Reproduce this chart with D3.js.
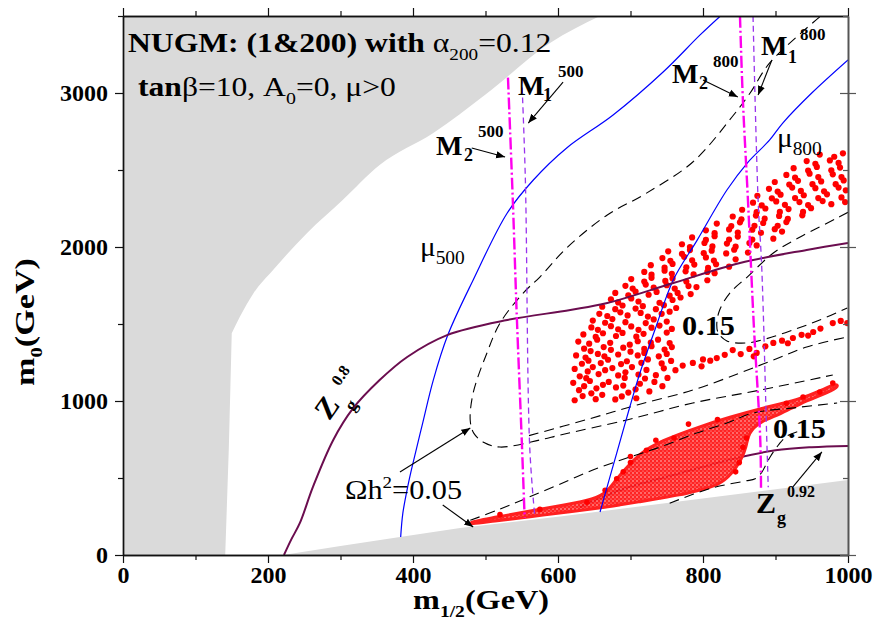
<!DOCTYPE html>
<html><head><meta charset="utf-8">
<script src="https://cdn.jsdelivr.net/npm/d3@7"></script>
<style>body{margin:0;background:#fff}</style>
</head><body>
<svg id="c" width="877" height="621"></svg>
<script>
// ---------- data (m1/2, m0) in GeV ----------
const xTicks = [0, 200, 400, 600, 800, 1000];
const xMinor = [100, 300, 500, 700, 900];
const yTicks = [0, 1000, 2000, 3000];
const yMinor = [500, 1500, 2500, 3500];

const grayLeftEdge = [[141,0],[146,700],[150,1440]];
const grayLeftCurve = [[150,1440],[161,1545],[180,1700],[207,1851],[254,2091],[303,2305],[354,2532],[428,2740],[500,2990],[589,3325],[658,3500]];
const grayBottom = [[221,0],[300,58],[382,117],[465,175],[603,250],[1000,487],[1000,0]];

const mu500 = [[383,117],[386,272],[393,450],[400,597],[413,850],[428,1136],[448,1428],[483,1786],[530,2221],[566,2435],[612,2643],[676,2857],[745,3136],[796,3377],[824,3500]];
const mu800 = [[658,279],[670,480],[681,662],[699,961],[713,1182],[735,1480],[759,1786],[792,2045],[833,2370],[861,2545],[892,2695],[910,2805],[950,3000],[1000,3215]];

const zg08 = [[222,0],[232,100],[244,208],[262,442],[290,747],[317,950],[354,1136],[392,1286],[447,1428],[530,1526],[617,1591],[668,1636],[759,1766],[851,1896],[943,1981],[1000,2026]];
const zg092 = [[630,310],[686,422],[760,520],[847,630],[900,680],[950,700],[1000,708]];

const m2_500 = [[531,3100],[538,2260],[543,1571],[550,747],[554,240]];
const m1_500 = [[550,3100],[555,2435],[561,700],[568,250]];
const m2_800 = [[851,3500],[855,2955],[862,2305],[870,1500],[879,747],[880,420]];
const m1_800 = [[869,3500],[876,2305],[881,1870],[888,747],[890,440]];

// relic density contours (Omega h^2)
const omegaA = [[961,3494],[892,3195],[865,3000],[840,2844],[786,2552],[720,2344],[668,2208],[612,1994],[575,1805],[552,1701],[520,1506],[502,1312],[483,1052],[479,870],[484,790],[498,730],[520,701],[575,747],[603,779],[695,877],[786,987],[879,1071],[979,1169]];
const omegaB = [[1000,2225],[985,2188],[934,2065],[897,1961],[861,1805],[837,1701],[823,1591],[819,1500],[821,1442],[833,1390],[861,1377],[888,1405],[924,1461],[961,1526],[999,1604]];
const omegaC = [[560,775],[640,880],[709,974],[786,1071],[851,1182],[897,1266],[943,1351],[999,1416]];
const omegaE = [[479,225],[520,298],[557,370],[600,455],[648,552],[695,630],[741,701],[790,790],[833,857],[869,922],[930,958],[985,987]];
const omegaF = [[754,336],[812,435],[858,480],[872,495],[880,530],[893,640],[905,720],[915,770],[930,800]];

// dense scatter band (outline of the nearly solid red region)
const denseBand = [[478,214],[520,250],[560,284],[610,326],[650,362],[668,410],[680,490],[695,570],[713,660],[741,740],[796,835],[837,895],[879,950],[934,1012],[962,1065],[984,1118],
 [988,1090],[965,1040],[934,985],[906,912],[879,868],[862,790],[860,700],[852,610],[840,530],[823,455],[790,415],[768,390],[740,368],[713,346],[686,326],[658,305],[620,282],[560,248],[510,220],[478,198]];
const bandDots = [[979,1117],[961,1058],[938,1026],[915,985],[690,540],[681,495],[700,600],[722,680],[760,760],[520,262],[575,296],[640,342],[855,700],[850,600],[780,850],[820,880],[665,420],[700,640],[735,745],[860,760],[845,540]];

// sparse scatter points (upper region)
const blobDots = [
[623,1005],[634,1032],[652,1012],[661,1040],[679,1010],[688,1030],[708,1018],
[629,1070],[646,1050],[653,1082],[680,1088],[697,1055],[707,1076],[726,1062],
[621,1118],[636,1096],[644,1130],[662,1105],[670,1124],[690,1100],[713,1112],[733,1124],[744,1096],
[630,1160],[639,1148],[656,1175],[683,1166],[692,1150],[711,1172],[720,1146],[735,1168],[751,1150],
[623,1208],[641,1192],[648,1220],[665,1200],[675,1214],[693,1186],[702,1220],[722,1202],[746,1212],
[633,1242],[642,1262],[659,1246],[669,1268],[687,1240],[695,1258],[715,1248],[724,1270],[743,1244],[756,1260],
[625,1296],[638,1282],[655,1306],[664,1290],[683,1302],[710,1296],[719,1312],[739,1290],[750,1306],
[636,1340],[645,1324],[663,1350],[673,1332],[690,1346],[700,1320],[719,1338],[729,1356],[747,1334],[757,1350],
[628,1386],[643,1372],[654,1398],[672,1378],[699,1366],[710,1388],[728,1380],[738,1398],[754,1376],
[635,1432],[652,1416],[662,1440],[680,1422],[689,1442],[708,1418],[718,1436],[750,1444],
[646,1478],[655,1462],[673,1486],[683,1466],[701,1484],[711,1462],[729,1476],[740,1490],[757,1468],
[648,1522],[665,1508],[675,1532],[693,1512],[721,1506],[732,1530],[750,1516],
[657,1566],[668,1552],[686,1576],[696,1556],[714,1572],[724,1548],[743,1566],[754,1580],
[661,1612],[679,1596],[689,1620],[707,1600],[717,1616],[735,1596],[746,1622],[763,1604],
[673,1660],[683,1640],[701,1666],[711,1646],[740,1638],[758,1656],[769,1672],
[679,1702],[697,1686],[707,1710],[725,1690],[736,1708],[754,1684],[765,1702],[783,1694],
[693,1748],[703,1730],[721,1756],[732,1736],[750,1752],[761,1730],[780,1746],[791,1740],
[701,1792],[719,1776],[729,1800],[748,1780],[758,1796],[777,1776],[806,1784],
[719,1838],[729,1820],[747,1846],[757,1826],[776,1842],[787,1822],[806,1838],[816,1830],
[728,1882],[747,1866],[758,1890],[777,1868],[788,1886],[807,1864],[818,1888],[836,1872],
[744,1928],[755,1910],[774,1936],[785,1914],[804,1932],[815,1912],[845,1920],
[752,1972],[771,1956],[782,1980],[801,1960],[812,1976],[832,1958],[843,1982],[862,1964],
[771,2018],[782,2000],[802,2026],[813,2004],[833,2022],[845,2002],[864,2026],[874,2010],
[785,2062],[804,2046],[816,2070],[836,2048],[848,2068],[868,2048],[897,2054],
[804,2108],[816,2090],[836,2114],[848,2094],[868,2112],[880,2092],[899,2116],[909,2100],
[819,2152],[839,2136],[851,2160],[871,2138],[883,2156],[903,2138],[915,2162],
[841,2198],[853,2180],[873,2204],[885,2184],[905,2202],[917,2182],[937,2206],
[854,2242],[874,2226],[886,2250],[906,2228],[918,2246],[938,2228],[949,2252],
[869,2288],[881,2270],[901,2296],[913,2274],[933,2292],[945,2272],[965,2298],[977,2278],[996,2292],
[875,2332],[895,2316],[907,2340],[927,2318],[939,2336],[959,2318],[971,2342],[991,2322],
[891,2378],[903,2360],[923,2386],[935,2364],[955,2382],[967,2362],[987,2386],[997,2368],
[899,2422],[919,2406],[931,2430],[951,2408],[963,2426],[983,2408],[994,2432],
[915,2468],[927,2450],[947,2476],[959,2454],[979,2472],[991,2454],
[925,2512],[945,2496],[957,2520],[977,2498],[989,2516],
[943,2558],[955,2540],[975,2562],[987,2546],
[961,2600],[981,2586],[993,2608],
[762,1200],[772,1230],[786,1247],[798,1225],[810,1262],[819,1279],[830,1300],[841,1331],[852,1305],[864,1338],[874,1312],[886,1355],[897,1377],[909,1392],[924,1409],[936,1430],[952,1448],[962,1470],[979,1506],[990,1520],[999,1506],[945,1425],[917,1375],[870,1290],[800,1270]
];

// arrows [from, to] in data units
const arrows = [
 [[607,3071],[559,2805]],
 [[481,2643],[527,2584]],
 [[800,3084],[848,2974]],
 [[895,3214],[876,2987]],
 [[382,539],[479,825]],
 [[441,325],[483,182]],
 [[924,442],[964,669]]
];

// ---------- drawing ----------
const serif = "'Liberation Serif','Times New Roman',Times,serif";
const svg = d3.select('#c');
const x = d3.scaleLinear().domain([0,1000]).range([123,848]);
const y = d3.scaleLinear().domain([0,3500]).range([555,16]);

const defs = svg.append('defs');
defs.append('clipPath').attr('id','clip').append('rect')
  .attr('x',x(0)).attr('y',y(3500)).attr('width',x(1000)-x(0)).attr('height',y(0)-y(3500));
defs.append('marker').attr('id','ah').attr('viewBox','0 0 10 10').attr('refX',10).attr('refY',5)
  .attr('markerWidth',9).attr('markerHeight',9).attr('markerUnits','userSpaceOnUse').attr('orient','auto')
  .append('path').attr('d','M0,1 L10,5 L0,9 Z').attr('fill','#000');
const pat = defs.append('pattern').attr('id','speck').attr('width',4).attr('height',4).attr('patternUnits','userSpaceOnUse');
pat.append('rect').attr('width',4).attr('height',4).attr('fill','#ff1010');
pat.append('circle').attr('cx',1).attr('cy',1).attr('r',0.75).attr('fill','#ffd0d0');
pat.append('circle').attr('cx',3).attr('cy',3).attr('r',0.5).attr('fill','#ffe0e0');

const plot = svg.append('g').attr('clip-path','url(#clip)');
const poly = d3.line().x(d=>x(d[0])).y(d=>y(d[1]));
const mono = d3.line().x(d=>x(d[0])).y(d=>y(d[1])).curve(d3.curveMonotoneX);
const smooth = d3.line().x(d=>x(d[0])).y(d=>y(d[1])).curve(d3.curveCatmullRom.alpha(0.5));
const blobby = d3.line().x(d=>x(d[0])).y(d=>y(d[1])).curve(d3.curveBasisClosed);

plot.append('path')
  .attr('d', poly(grayLeftEdge) + mono(grayLeftCurve).replace(/^M/,'L') + `L${x(0)},${y(3500)}L${x(0)},${y(0)}Z`)
  .attr('fill','#dadada');
plot.append('path').attr('d', poly(grayBottom)+'Z').attr('fill','#dadada');

// Zg 0.92 under dense band
plot.append('path').attr('d', smooth(zg092)).attr('fill','none').attr('stroke','#6b0d4f').attr('stroke-width',2);

// scatter
plot.append('path').attr('d', blobby(denseBand))
  .attr('fill','url(#speck)').attr('fill-opacity',0.92).attr('stroke','#ff2020').attr('stroke-width',3).attr('stroke-linejoin','round');
plot.selectAll('circle.bd').data(bandDots).join('circle').attr('class','bd')
  .attr('cx',d=>x(d[0])).attr('cy',d=>y(d[1])).attr('r',2.8).attr('fill','#ff0000');
plot.selectAll('circle.sd').data(blobDots).join('circle').attr('class','sd')
  .attr('cx',d=>x(d[0])).attr('cy',d=>y(d[1])).attr('r',3.1).attr('fill','#ff0000');

// lines
function curve(data, stroke, w, dash){
  const p = plot.append('path').attr('d', smooth(data)).attr('fill','none').attr('stroke',stroke).attr('stroke-width',w);
  if (dash) p.attr('stroke-dasharray',dash);
  return p;
}
[omegaA, omegaB, omegaC, omegaE, omegaF].forEach(c => curve(c,'#000',1.1,'10,6'));
curve(mu500,'#0000ff',1.2);
curve(mu800,'#0000ff',1.2);
curve(zg08,'#6b0d4f',2);
curve(m2_500,'#ff00ee',2.4,'12,3,2,3');
curve(m2_800,'#ff00ee',2.4,'12,3,2,3');
curve(m1_500,'#9933ee',1.3,'6,4');
curve(m1_800,'#9933ee',1.3,'6,4');

// arrows
svg.selectAll('line.arr').data(arrows).join('line').attr('class','arr')
  .attr('x1',d=>x(d[0][0])).attr('y1',d=>y(d[0][1])).attr('x2',d=>x(d[1][0])).attr('y2',d=>y(d[1][1]))
  .attr('stroke','#000').attr('stroke-width',1.1).attr('marker-end','url(#ah)');

// axes
function styleAxis(g, col){
  g.selectAll('path.domain').attr('stroke',col).attr('stroke-width',1.4);
  g.selectAll('.tick line').attr('stroke',col).attr('stroke-width',1.2);
  g.selectAll('.tick text').attr('font-family',serif).attr('font-size',24).attr('font-weight','bold').attr('fill','#000');
}
const ax = [
  svg.append('g').attr('transform',`translate(0,${y(0)})`).call(d3.axisBottom(x).tickValues(xTicks).tickSize(8).tickSizeOuter(0).tickPadding(3).tickFormat(d3.format('d'))),
  svg.append('g').attr('transform',`translate(0,${y(0)})`).call(d3.axisBottom(x).tickValues(xMinor).tickSize(5).tickSizeOuter(0).tickFormat('')),
  svg.append('g').attr('transform',`translate(0,${y(3500)})`).call(d3.axisTop(x).tickValues(xTicks).tickSize(8).tickSizeOuter(0).tickFormat('')),
  svg.append('g').attr('transform',`translate(0,${y(3500)})`).call(d3.axisTop(x).tickValues(xMinor).tickSize(5).tickSizeOuter(0).tickFormat('')),
  svg.append('g').attr('transform',`translate(${x(0)},0)`).call(d3.axisLeft(y).tickValues(yTicks).tickSize(8).tickSizeOuter(0).tickPadding(7).tickFormat(d3.format('d'))),
  svg.append('g').attr('transform',`translate(${x(0)},0)`).call(d3.axisLeft(y).tickValues(yMinor).tickSize(5).tickSizeOuter(0).tickFormat(''))
];
ax.forEach(g=>styleAxis(g,'#111'));
const axR = [
  svg.append('g').attr('transform',`translate(${x(1000)},0)`).call(d3.axisRight(y).tickValues(yTicks).tickSizeInner(-8).tickSizeOuter(0).tickFormat('')),
  svg.append('g').attr('transform',`translate(${x(1000)},0)`).call(d3.axisRight(y).tickValues(yTicks).tickSize(8).tickSizeOuter(0).tickFormat('')),
  svg.append('g').attr('transform',`translate(${x(1000)},0)`).call(d3.axisRight(y).tickValues(yMinor).tickSizeInner(-5).tickSizeOuter(0).tickFormat(''))
];
axR.forEach(g=>styleAxis(g,'#555'));

// rich text helper
function rich(px, py, fs, parts, opt={}){
  const g = svg.append('g').attr('transform',`translate(${px},${py}) rotate(${opt.rot||0}) scale(${opt.sx||1},1)`);
  const t = g.append('text').attr('font-family',serif).attr('font-size',fs).attr('fill','#000')
    .attr('text-anchor',opt.anchor||'start').style('white-space','pre');
  if (opt.mid) t.attr('dominant-baseline','central');
  let cur = 0;
  parts.forEach(p=>{
    const off = p.s==='sub' ? fs*0.28 : p.s==='sup' ? -fs*0.42 : 0;
    t.append('tspan').attr('dy', off-cur).attr('font-size', p.fs || (p.s ? Math.round(fs*0.62) : fs))
      .attr('font-weight', p.b ? 'bold' : 'normal').text(p.t);
    cur = off;
  });
  return t;
}

// titles
rich(128, 52, 28, [{t:'NUGM: (1&200) with ',b:1},{t:'α'},{t:'200',s:'sub'},{t:'=0.12'}], {sx:1.13});
rich(138, 96, 27, [{t:'tan',b:1},{t:'β=10, A'},{t:'0',s:'sub'},{t:'=0, μ>0'}], {sx:1.17});

// axis titles
rich(481, 609, 28, [{t:'m',b:1},{t:'1/2',s:'sub',b:1,fs:17},{t:'(GeV)',b:1}], {anchor:'middle', sx:1.15});
rich(34, 322, 28, [{t:'m',b:1},{t:'0',s:'sub',b:1,fs:17},{t:'(GeV)',b:1}], {anchor:'middle', rot:-90, sx:1.22});

// curve labels
rich(420, 256, 27, [{t:'μ'},{t:'500',s:'sub',fs:18}], {sx:1.08});
rich(777, 147, 27, [{t:'μ'},{t:'800',s:'sub',fs:18}], {sx:1.08});

rich(518, 95, 28, [{t:'M',b:1}]);
rich(543, 101, 18, [{t:'1',b:1}]);
rich(558, 77, 17, [{t:'500',b:1}]);

rich(436, 155, 28, [{t:'M',b:1}]);
rich(464, 161, 18, [{t:'2',b:1}]);
rich(478, 137, 17, [{t:'500',b:1}]);

rich(672, 83, 28, [{t:'M',b:1}]);
rich(699, 89, 18, [{t:'2',b:1}]);
rich(713, 67, 17, [{t:'800',b:1}]);

rich(761, 55, 28, [{t:'M',b:1}]);
rich(788, 63, 18, [{t:'1',b:1}]);
rich(800, 40, 17, [{t:'800',b:1}]);

rich(682, 335, 27, [{t:'0.15',b:1}], {sx:1.12});
rich(773, 438, 27, [{t:'0.15',b:1}], {sx:1.12});

rich(345, 499, 27, [{t:'Ωh'},{t:'2',s:'sup',fs:17},{t:'=0.05'}], {sx:1.12});

rich(756, 513, 30, [{t:'Z',b:1}]);
rich(777, 524, 18, [{t:'g',b:1}]);
rich(787, 497, 16, [{t:'0.92',b:1}]);

rich(326, 407, 30, [{t:'Z',b:1}], {rot:-55, anchor:'middle', mid:1});
rich(351, 405, 18, [{t:'g',b:1}], {rot:-55, anchor:'middle', mid:1});
rich(340, 375, 16, [{t:'0.8',b:1}], {rot:-55, anchor:'middle', mid:1});
</script>
</body></html>
